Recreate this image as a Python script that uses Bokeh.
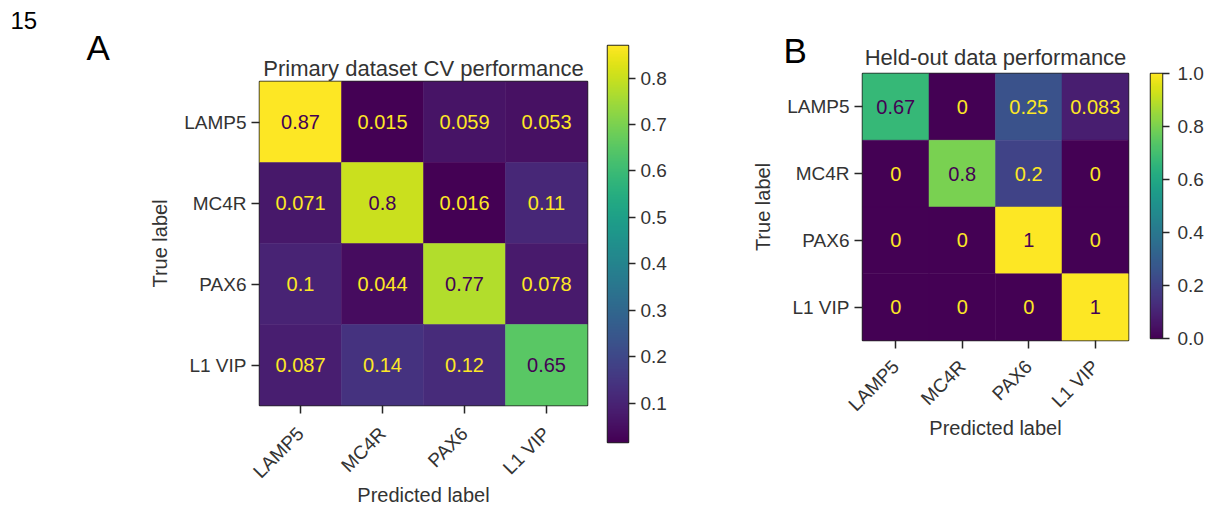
import numpy as np
from bokeh.plotting import figure
from bokeh.models import (ColumnDataSource, LinearColorMapper, FactorRange, Range1d,
                          FixedTicker, PrintfTickFormatter)
from bokeh.core.properties import value
from bokeh.transform import transform
from bokeh.palettes import Viridis256
from bokeh.layouts import row, column
from bokeh.embed import file_html
from bokeh.resources import INLINE

# ---------------- data ----------------
classes = ["LAMP5", "MC4R", "PAX6", "L1 VIP"]
cv_matrix = [
    [0.87, 0.015, 0.059, 0.053],
    [0.071, 0.8, 0.016, 0.11],
    [0.1, 0.044, 0.77, 0.078],
    [0.087, 0.14, 0.12, 0.65],
]
heldout_matrix = [
    [0.67, 0, 0.25, 0.083],
    [0, 0.8, 0.2, 0],
    [0, 0, 1, 0],
    [0, 0, 0, 1],
]
cv_ticks = [0.1, 0.2, 0.3, 0.4, 0.5, 0.6, 0.7, 0.8]
heldout_ticks = [0.0, 0.2, 0.4, 0.6, 0.8, 1.0]
title_a = "Primary dataset CV performance"
title_b = "Held-out data performance"
x_label = "Predicted label"
y_label = "True label"
page_number = "15"
panel_letters = ["A", "B"]

# ---------------- style ----------------
FONT = "Liberation Sans"
AXIS = "#262626"
TXT = "#333333"
DARK = "#440154"
LIGHT = "#fde725"
H = 509


def style_axis(ax):
    ax.axis_line_color = None
    ax.major_tick_line_color = AXIS
    ax.major_tick_line_width = 1.5
    ax.major_tick_out = 8
    ax.major_tick_in = 0
    ax.minor_tick_line_color = None
    ax.major_label_text_font = FONT
    ax.major_label_text_font_size = "19px"
    ax.major_label_text_color = TXT
    ax.major_label_standoff = 5
    ax.axis_label_text_font = FONT
    ax.axis_label_text_font_size = "20px"
    ax.axis_label_text_font_style = "normal"
    ax.axis_label_text_color = TXT
    ax.axis_label_standoff = 5


def blank(width, height):
    # pixel-like ranges: x from left, y from top
    f = figure(x_range=Range1d(0, width), y_range=Range1d(height, 0), width=width, height=height,
               x_axis_location=None, y_axis_location=None, output_backend="svg",
               toolbar_location=None, min_border=0, frame_align=False)
    f.grid.visible = False
    f.outline_line_color = None
    return f


def put_text(f, x, y, txt, size, color, align="left"):
    f.text(x=[x], y=[y], text=[txt], text_font=value(FONT), text_font_size=size,
           text_color=color, text_align=align, text_baseline="middle")


def heatmap(matrix, title, mapper, width, height, mbl, mbr, mbt, mbb, xl_standoff, xa_standoff):
    lo, hi = mapper.low, mapper.high
    thresh = (lo + hi) / 2.0
    pred, true, vals, labels, tcol = [], [], [], [], []
    for i, r in enumerate(classes):
        for j, c in enumerate(classes):
            v = matrix[i][j]
            pred.append(c)
            true.append(r)
            vals.append(float(v))
            labels.append(format(v, ".2g"))
            tcol.append(DARK if v > thresh else LIGHT)
    src = ColumnDataSource(dict(pred=pred, true=true, value=vals, label=labels, tcolor=tcol))
    kw = dict(title=title) if title else {}
    p = figure(x_range=FactorRange(*classes), y_range=FactorRange(*classes[::-1]),
               width=width, height=height, output_backend="svg", toolbar_location=None,
               min_border_left=mbl, min_border_right=mbr, min_border_top=mbt,
               min_border_bottom=mbb, frame_align=False, **kw)
    p.rect(x="pred", y="true", width=1, height=1, source=src,
           fill_color=transform("value", mapper), line_color=transform("value", mapper),
           line_width=0.5)
    p.text(x="pred", y="true", text="label", source=src, text_color="tcolor",
           text_align="center", text_baseline="middle", text_font=value(FONT),
           text_font_size="20px")
    p.grid.visible = False
    p.outline_line_color = AXIS
    p.outline_line_width = 1.5
    style_axis(p.xaxis[0])
    style_axis(p.yaxis[0])
    p.yaxis.axis_label_standoff = 10
    p.xaxis.major_label_standoff = xl_standoff
    p.xaxis.axis_label_standoff = xa_standoff
    p.xaxis.major_label_orientation = np.pi / 4
    p.xaxis.axis_label = x_label
    p.yaxis.axis_label = y_label
    if title:
        p.title.text_font = FONT
        p.title.text_font_size = "22px"
        p.title.text_font_style = "normal"
        p.title.text_color = TXT
        p.title.align = "center"
        p.title.standoff = 2
    return p


def colorbar(mapper, ticks, width, height, mbl, mbr, mbt, mbb, standoff):
    lo, hi = mapper.low, mapper.high
    c = figure(x_range=Range1d(0, 1), y_range=Range1d(lo, hi), width=width, height=height,
               y_axis_location="right", x_axis_location=None, output_backend="svg",
               toolbar_location=None, min_border_left=mbl, min_border_right=mbr,
               min_border_top=mbt, min_border_bottom=mbb, frame_align=False)
    grad = np.linspace(lo, hi, 256).reshape(256, 1)
    c.image(image=[grad], x=0, y=lo, dw=1, dh=hi - lo, color_mapper=mapper)
    c.grid.visible = False
    c.outline_line_color = AXIS
    c.outline_line_width = 1.5
    ax = c.yaxis[0]
    style_axis(ax)
    ax.major_tick_out = 7
    ax.major_label_standoff = standoff
    ax.ticker = FixedTicker(ticks=ticks, minor_ticks=[])
    ax.formatter = PrintfTickFormatter(format="%.1f")
    return c


cv_vals = [v for r in cv_matrix for v in r]
map_a = LinearColorMapper(palette=Viridis256, low=min(cv_vals), high=max(cv_vals))
ho_vals = [v for r in heldout_matrix for v in r]
map_b = LinearColorMapper(palette=Viridis256, low=min(ho_vals), high=max(ho_vals))

# left strip with page number and panel letter A
strip = blank(140, H)
put_text(strip, 10, 20, page_number, "24px", "black")
put_text(strip, 86, 47, panel_letters[0], "35px", "black")

figA = heatmap(cv_matrix, title_a, map_a, 458, H, 119, 11, 81, 100, 17, -8)
cbA = colorbar(map_a, cv_ticks, 102, H, 9, 72, 45, 67, 5)

# header of panel B: letter and title
HB = 71
headB = blank(440, HB)
put_text(headB, 83, 50, panel_letters[1], "35px", "black")
put_text(headB, 295, 57, title_b, "22px", TXT, align="center")
figB = heatmap(heldout_matrix, None, map_b, 440, H - HB, 162, 12, 2, H - HB - 2 - 267, 15, -8)
cbB = colorbar(map_b, heldout_ticks, 66, H, 10, 43, 73, H - 73 - 265, 8)

layout = row(strip, figA, cbA, column(headB, figB), cbB)
open("out.html", "w").write(file_html(layout, INLINE))
